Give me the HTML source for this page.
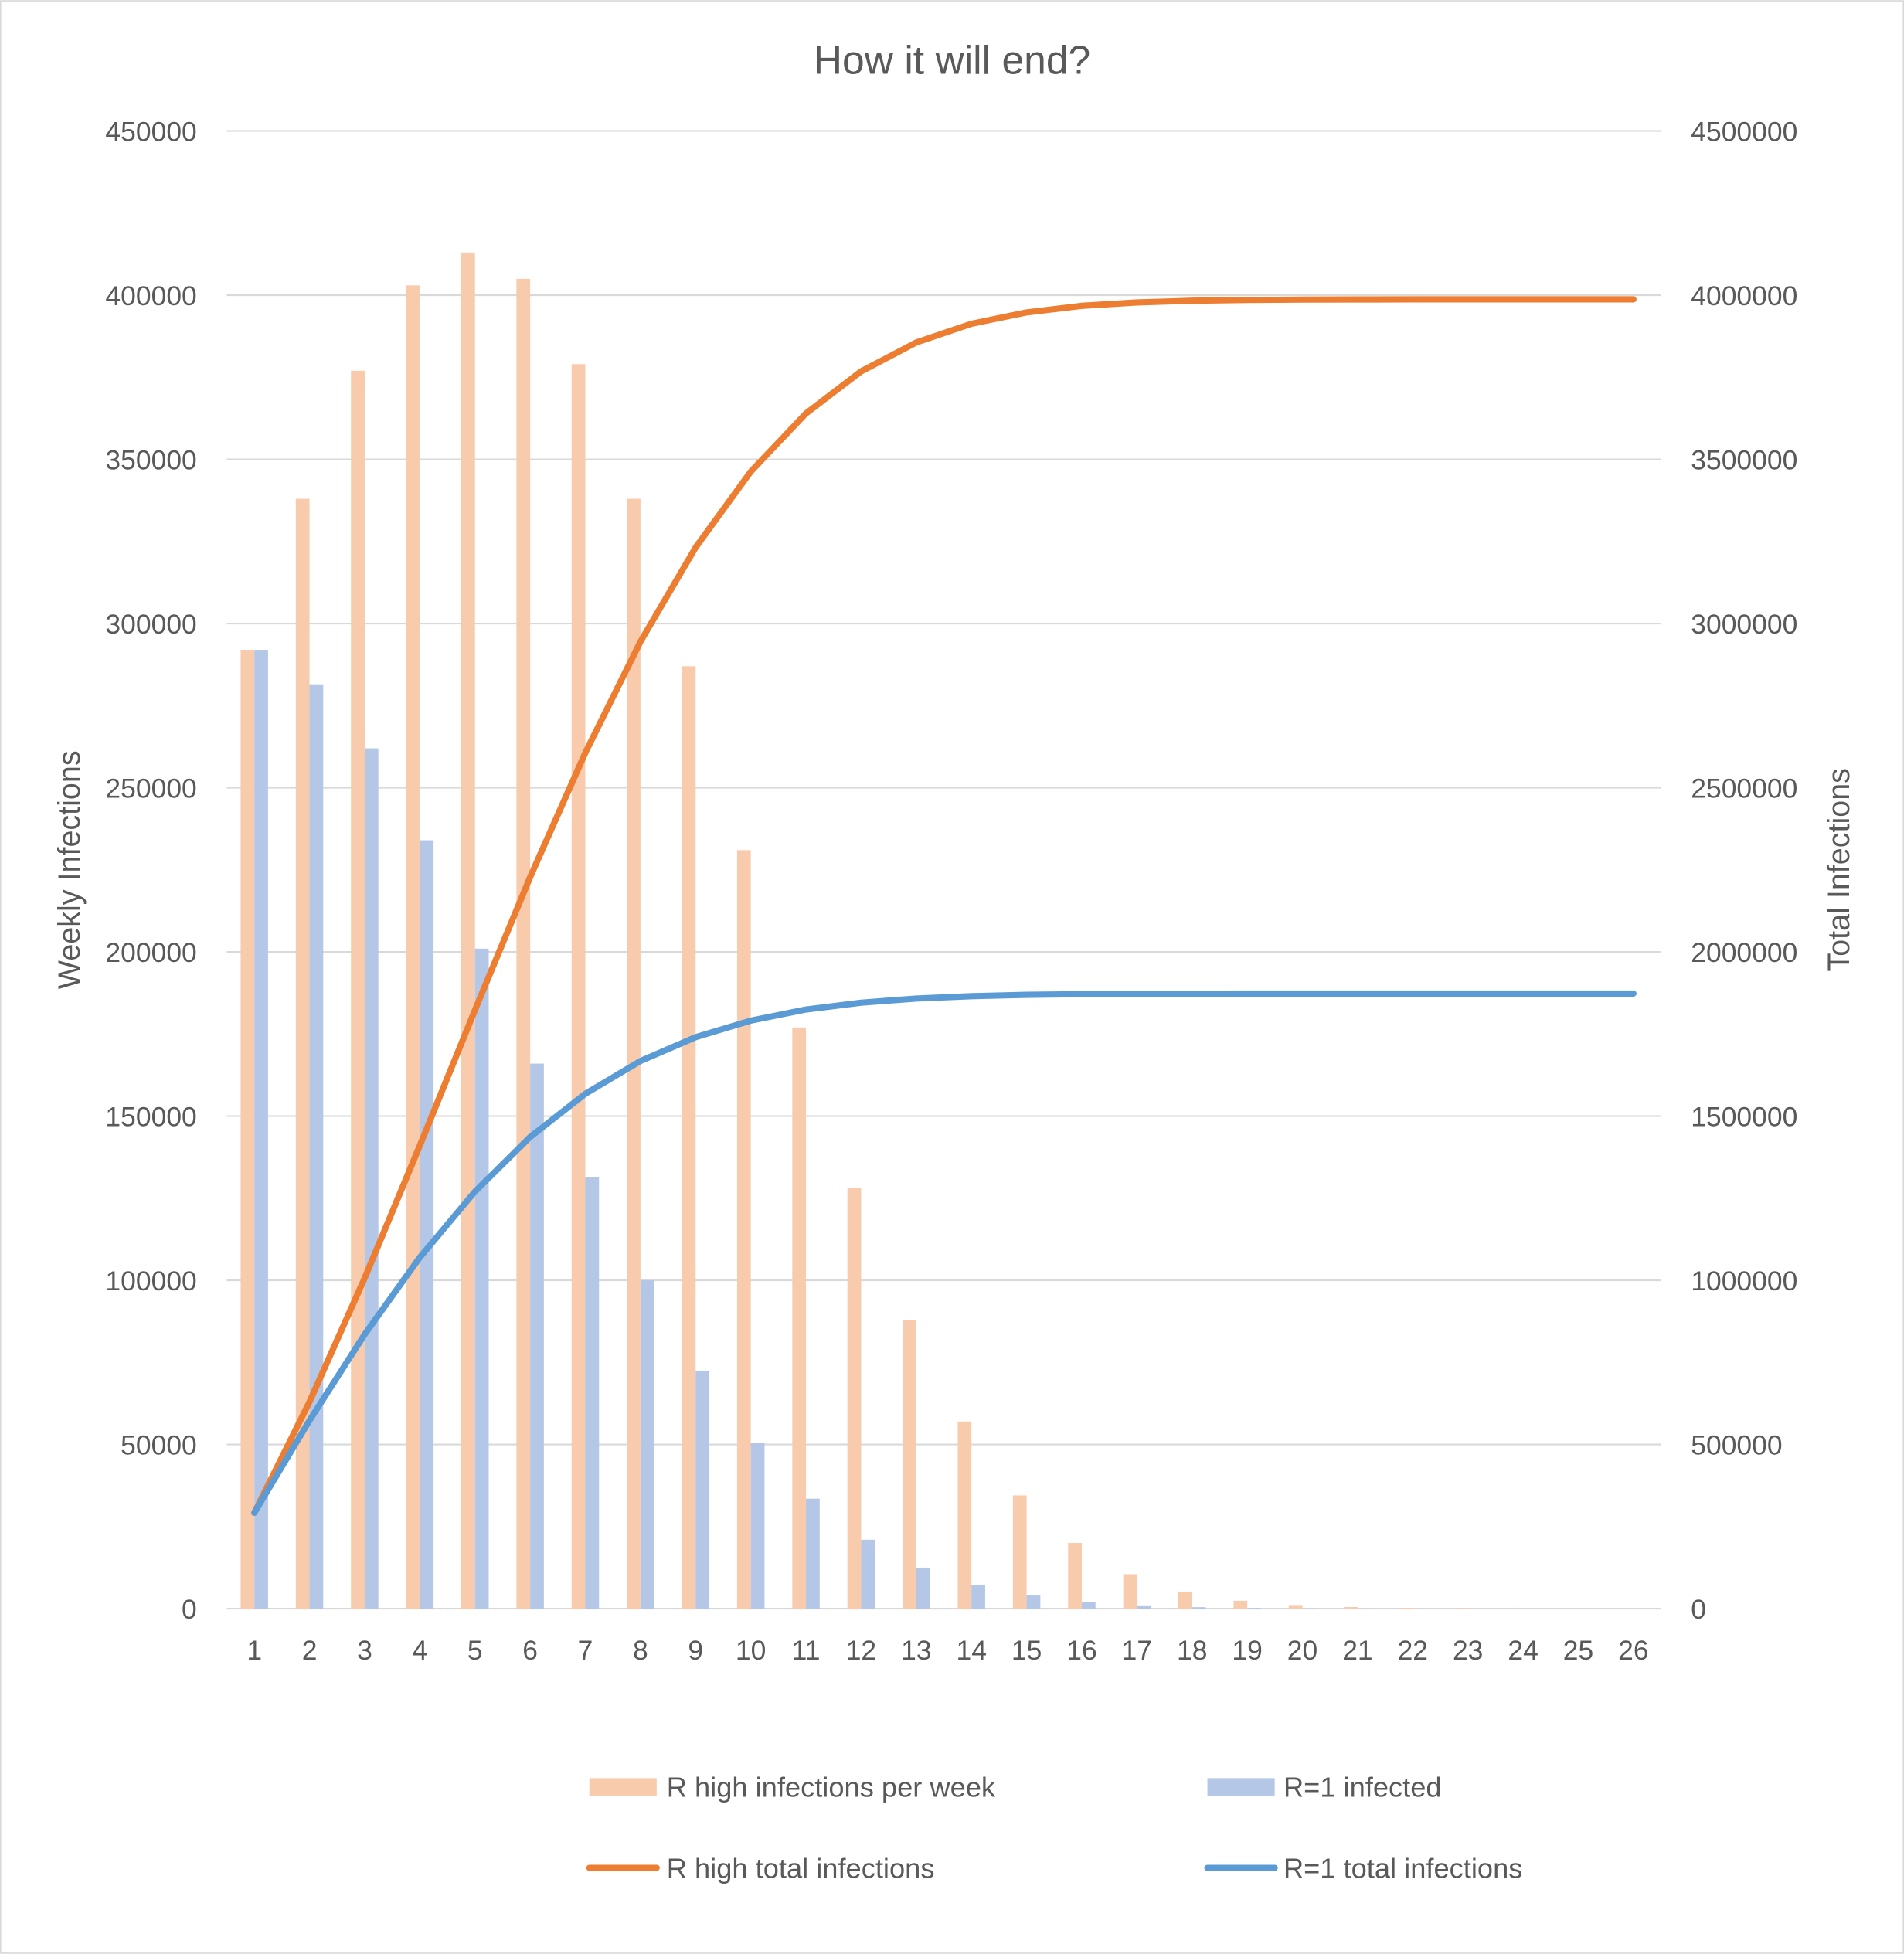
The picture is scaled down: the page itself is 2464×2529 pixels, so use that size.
<!DOCTYPE html>
<html><head><meta charset="utf-8"><style>
html,body{margin:0;padding:0;background:#fff}
svg{display:block}
text{font-family:"Liberation Sans",sans-serif;fill:#595959}
</style></head><body>
<svg id="c" width="2464" height="2529" viewBox="0 0 1528 1568" xmlns="http://www.w3.org/2000/svg">
<rect x="0.5" y="0.5" width="1527" height="1567" fill="#fff" stroke="#d9d9d9"/>
<text x="764" y="59" font-size="32" text-anchor="middle">How it will end?</text>
<g id="grid"></g>
<g id="bars"></g>
<g id="lines"></g>
<text transform="translate(64,698) rotate(-90)" font-size="24.5" text-anchor="middle">Weekly Infections</text>
<text transform="translate(1484,698) rotate(-90)" font-size="24.5" text-anchor="middle">Total Infections</text>
<rect x="473" y="1427" width="54" height="14" fill="#f8cbad"/>
<text x="535" y="1442" font-size="22.5">R high infections per week</text>
<rect x="969" y="1427" width="54" height="14" fill="#b4c7e7"/>
<text x="1030" y="1442" font-size="22.5">R=1 infected</text>
<line x1="473" y1="1499" x2="527" y2="1499" stroke="#ed7d31" stroke-width="5" stroke-linecap="round"/>
<text x="535" y="1507" font-size="22.5">R high total infections</text>
<line x1="969" y1="1499" x2="1023" y2="1499" stroke="#5b9bd5" stroke-width="5" stroke-linecap="round"/>
<text x="1030" y="1507" font-size="22.5">R=1 total infections</text>
</svg>
<script>
var NS="http://www.w3.org/2000/svg";
function el(p,t,a,txt){var e=document.createElementNS(NS,t);for(var k in a)e.setAttribute(k,a[k]);if(txt!=null)e.textContent=txt;document.getElementById(p).appendChild(e);}
var L=182,R=1333,T=105,B=1291,H=B-T,cw=(R-L)/26;
for(var i=0;i<=9;i++){var y=B-i*H/9;
 el("grid","line",{x1:L,x2:R,y1:y,y2:y,stroke:"#d9d9d9","stroke-width":1.3});
 el("grid","text",{x:158,y:y+8,"font-size":22,"text-anchor":"end"},String(i*50000));
 el("grid","text",{x:1357,y:y+8,"font-size":22},String(i*500000));}
var o=[292000,338000,377000,403000,413000,405000,379000,338000,287000,231000,177000,128000,88000,57000,34500,20000,10500,5200,2400,1100,500,200,100,50,20,10];
var b=[292000,281500,262000,234000,201000,166000,131500,100000,72500,50500,33500,21000,12500,7300,4000,2100,1000,450,200,80,30,10,5,2,1,0];
var co=0,cb=0,po=[],pb=[];
for(var i=0;i<26;i++){var cx=L+(i+0.5)*cw;
 el("grid","text",{x:cx,y:1332,"font-size":22,"text-anchor":"middle"},String(i+1));
 var ho=o[i]/450000*H,hb=b[i]/450000*H;
 el("bars","rect",{x:cx-11,y:B-ho,width:11,height:ho,fill:"#f8cbad"});
 el("bars","rect",{x:cx,y:B-hb,width:11,height:hb,fill:"#b4c7e7"});
 co+=o[i];cb+=b[i];
 po.push(cx.toFixed(1)+","+(B-co/4500000*H).toFixed(1));
 pb.push(cx.toFixed(1)+","+(B-cb/4500000*H).toFixed(1));}
el("lines","polyline",{points:po.join(" "),fill:"none",stroke:"#ed7d31","stroke-width":5,"stroke-linejoin":"round","stroke-linecap":"round"});
el("lines","polyline",{points:pb.join(" "),fill:"none",stroke:"#5b9bd5","stroke-width":5,"stroke-linejoin":"round","stroke-linecap":"round"});
</script>
</body></html>
